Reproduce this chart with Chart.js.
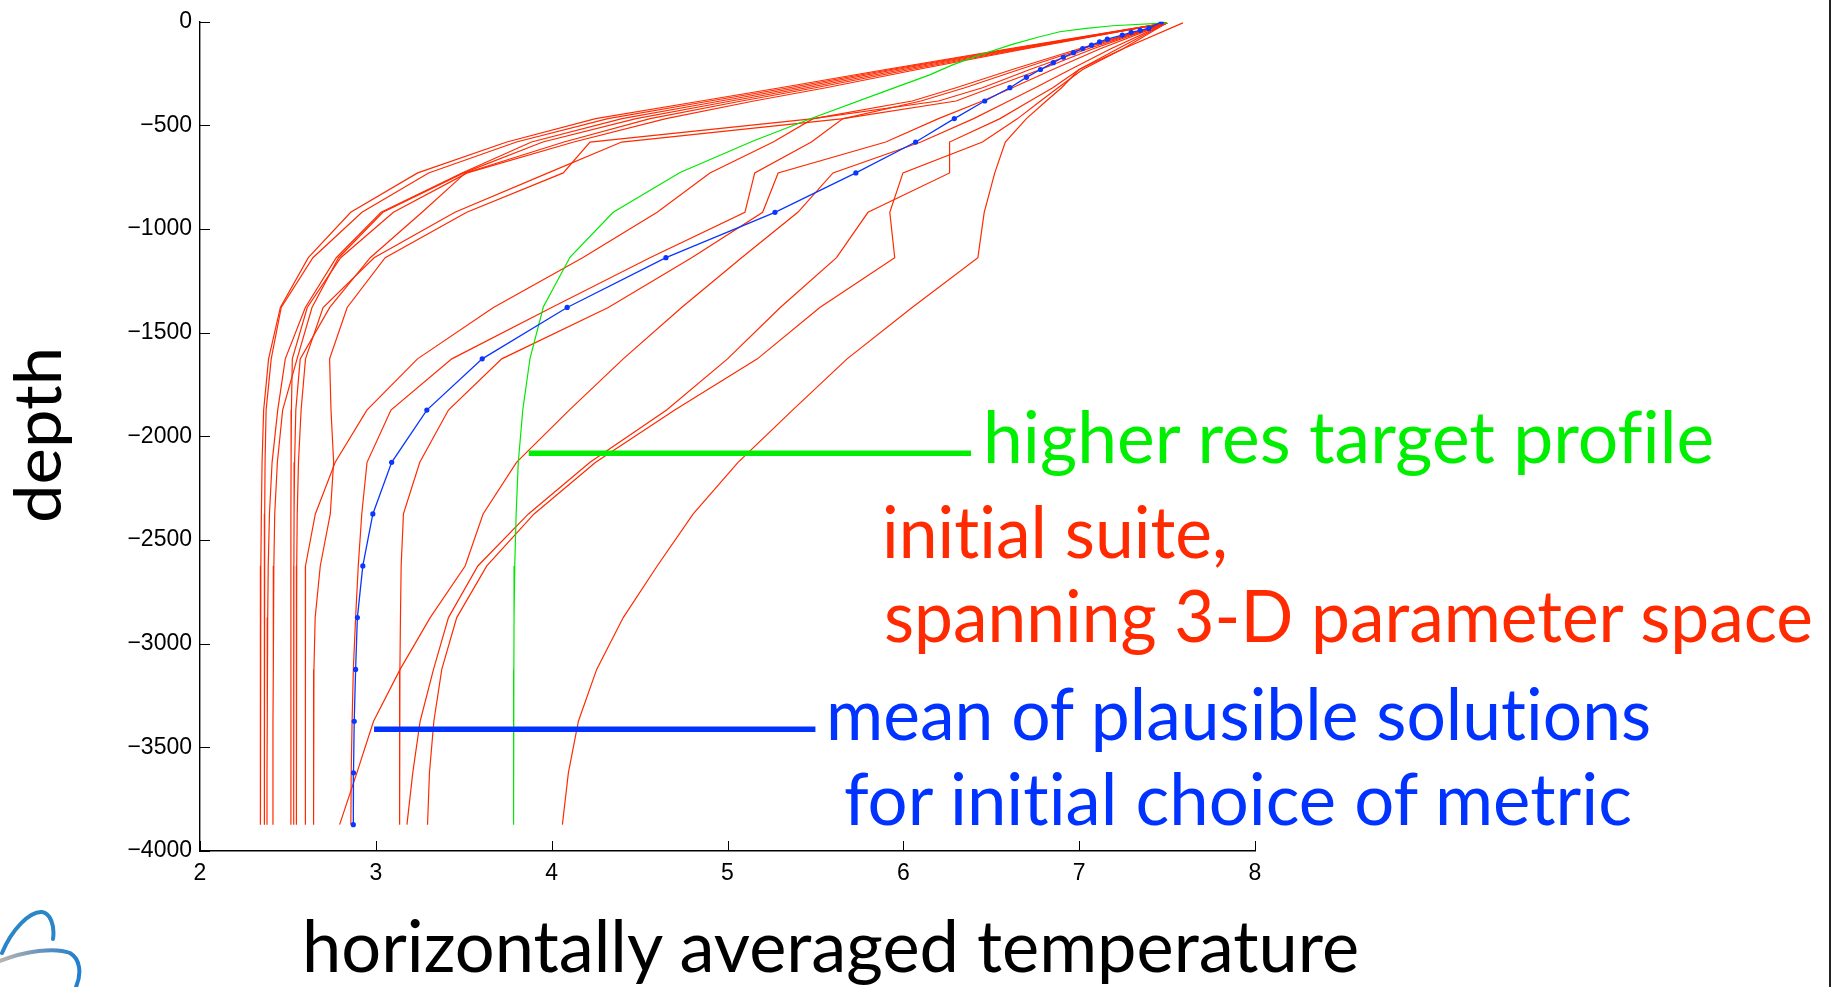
<!DOCTYPE html>
<html>
<head>
<meta charset="utf-8">
<script src="https://cdn.jsdelivr.net/npm/chart.js@4/dist/chart.umd.min.js"></script>
<style>
html,body{margin:0;padding:0;background:#fff;width:1837px;height:987px;overflow:hidden;}
#wrap{position:absolute;left:0;top:0;width:1837px;height:987px;}
canvas{display:block;position:absolute;left:0;top:0;}
.t{position:absolute;white-space:nowrap;transform-origin:0 0;margin:0;padding:0;}
#edge{position:absolute;left:1829px;top:0;width:2px;height:987px;background:#222;}
</style>
</head>
<body>
<div id="wrap">
<canvas id="c" width="1837" height="987"></canvas>
<svg id="logo" width="120" height="90" style="position:absolute;left:0;top:897px" viewBox="0 0 120 90">
  <defs>
    <linearGradient id="sw" x1="0" y1="0" x2="1" y2="0">
      <stop offset="0" stop-color="#b9b4ae"/>
      <stop offset="0.6" stop-color="#5b8fc0"/>
      <stop offset="1" stop-color="#1f7fd0"/>
    </linearGradient>
  </defs>
  <path d="M2 56 C 12 32, 30 14, 42 15 C 50 16, 55 28, 53 42" fill="none" stroke="#2b86c8" stroke-width="4" stroke-linecap="round"/>
  <path d="M0 64 C 25 54, 55 50, 70 56 C 80 62, 82 76, 76 90" fill="none" stroke="url(#sw)" stroke-width="4" stroke-linecap="round"/>
</svg>
<div id="edge"></div>
</div>
<script>
// ---------------- data ----------------
// depth levels of the initial-suite model profiles (m)
const suiteDepth = [-5, -130, -230, -318, -382, -467, -580, -729, -919, -1138, -1378, -1626, -1873, -2125, -2374, -2625, -2874, -3124, -3374, -3623, -3873];

// initial suite temperature profiles (one array per run)
const suiteA1 = [7.50, 6.60, 5.90, 5.30, 4.85, 4.25, 3.745, 3.238, 2.857, 2.616, 2.457, 2.390, 2.362, 2.353, 2.349, 2.346, 2.345, 2.344, 2.343, 2.343, 2.343];
const suiteA2 = [7.50, 6.62, 5.93, 5.35, 4.90, 4.32, 3.800, 3.300, 2.921, 2.642, 2.462, 2.405, 2.376, 2.370, 2.368, 2.367, 2.366, 2.366, 2.366, 2.366, 2.366];
const suiteA3 = [7.50, 6.64, 5.96, 5.40, 4.96, 4.40, 3.885, 3.490, 3.030, 2.775, 2.599, 2.485, 2.442, 2.410, 2.395, 2.388, 2.385, 2.383, 2.382, 2.381, 2.381];
const suiteA4 = [7.50, 6.66, 6.00, 5.45, 5.02, 4.48, 3.950, 3.500, 3.040, 2.788, 2.637, 2.552, 2.470, 2.440, 2.425, 2.420, 2.418, 2.416, 2.415, 2.415, 2.415];
const suiteA5 = [7.50, 6.68, 6.04, 5.50, 5.08, 4.56, 4.070, 3.510, 3.263, 2.968, 2.738, 2.570, 2.545, 2.538, 2.535, 2.534, 2.533, 2.533, 2.533, 2.533, 2.533];
const suiteA6 = [7.50, 6.70, 6.08, 5.56, 5.15, 4.65, 4.126, 3.520, 3.100, 2.800, 2.610, 2.525, 2.520, 2.518, 2.517, 2.517, 2.517, 2.517, 2.517, 2.517, 2.517];
const suiteB1 = [7.50, 7.00, 6.62, 6.30, 6.05, 5.49, 4.218, 4.066, 3.517, 3.053, 2.837, 2.737, 2.745, 2.760, 2.741, 2.684, 2.655, 2.648, 2.646, 2.646, 2.646];
const suiteB2 = [7.50, 7.02, 6.66, 6.35, 6.10, 5.66, 4.398, 3.980, 3.450, 2.990, 2.700, 2.600, 2.575, 2.560, 2.553, 2.550, 2.549, 2.548, 2.548, 2.548, 2.548];
const suiteM1 = [7.50, 7.05, 6.72, 6.45, 6.20, 5.487, 5.260, 4.900, 4.600, 4.176, 3.669, 3.237, 2.949, 2.769, 2.656, 2.600, 2.600, 2.600, 2.599, 2.599, 2.599];
const suiteM2 = [7.50, 7.08, 6.78, 6.50, 6.30, 5.657, 5.477, 5.155, 5.099, 4.559, 4.000, 3.432, 3.086, 2.950, 2.920, 2.900, 2.885, 2.872, 2.865, 2.860, 2.858];
const suiteM3 = [7.50, 7.12, 6.85, 6.62, 6.45, 6.20, 5.900, 5.288, 5.200, 4.796, 4.322, 3.716, 3.413, 3.250, 3.157, 3.144, 3.140, 3.137, 3.136, 3.135, 3.135];
const suiteD1 = [7.50, 7.25, 7.02, 6.88, 6.78, 6.65, 6.450, 5.998, 5.923, 5.951, 5.525, 5.170, 4.700, 4.250, 3.900, 3.631, 3.460, 3.375, 3.330, 3.305, 3.294];
const suiteD2 = [7.50, 7.22, 7.00, 6.85, 6.72, 6.55, 6.263, 6.263, 5.799, 5.620, 5.300, 5.000, 4.654, 4.218, 3.868, 3.580, 3.413, 3.328, 3.252, 3.210, 3.177];
const suiteD3 = [7.50, 7.18, 6.95, 6.75, 6.60, 6.40, 6.100, 5.600, 5.400, 5.080, 4.739, 4.407, 4.100, 3.800, 3.610, 3.508, 3.309, 3.138, 2.987, 2.892, 2.794];
const suiteR  = [7.59, 7.25, 7.00, 6.90, 6.813, 6.70, 6.580, 6.520, 6.460, 6.424, 6.050, 5.680, 5.370, 5.060, 4.805, 4.600, 4.407, 4.256, 4.152, 4.095, 4.061];

// higher-res target profile
const targetDepth = [-5, -19, -32, -48, -72, -109, -160, -208, -256, -344, -463, -575, -727, -919, -1135, -1375, -1623, -1870, -2126, -2374, -2625, -2878, -3124, -3374, -3623, -3873];
const targetTemp  = [7.50, 7.19, 7.04, 6.89, 6.775, 6.62, 6.434, 6.28, 6.15, 5.866, 5.487, 5.146, 4.73, 4.35, 4.105, 3.953, 3.877, 3.836, 3.81, 3.798, 3.79, 3.786, 3.785, 3.784, 3.783, 3.783];

// mean of plausible solutions
const meanDepth = [0, -32, -41, -51, -64, -84, -97, -113, -129, -149, -171, -197, -230, -268, -318, -382, -467, -580, -729, -919, -1138, -1378, -1626, -1873, -2125, -2374, -2625, -2874, -3124, -3374, -3623, -3873];
const meanTemp  = [7.468, 7.396, 7.347, 7.296, 7.245, 7.16, 7.116, 7.07, 7.02, 6.968, 6.91, 6.853, 6.78, 6.70, 6.606, 6.463, 6.29, 6.07, 5.73, 5.27, 4.65, 4.088, 3.605, 3.29, 3.09, 2.983, 2.926, 2.895, 2.885, 2.877, 2.873, 2.872];

// annotation leader lines (temperature, depth)
const greenLeaderT = [3.87, 6.385];
const greenLeaderD = [-2081, -2081];
const blueLeaderT  = [2.99, 5.50];
const blueLeaderD  = [-3413, -3413];

// ticks
const xTickValues = [2, 3, 4, 5, 6, 7, 8];
const xTickLabels = ['2', '3', '4', '5', '6', '7', '8'];
const yTickValues = [-4000, -3500, -3000, -2500, -2000, -1500, -1000, -500, 0];
const yTickLabels = ['\u22124000', '\u22123500', '\u22123000', '\u22122500', '\u22122000', '\u22121500', '\u22121000', '\u2212500', '0'];

// texts
const xTitle = 'horizontally averaged temperature';
const yTitle = 'depth';
const labelTarget = 'higher res target profile';
const labelSuite1 = 'initial suite,';
const labelSuite2 = 'spanning 3-D parameter space';
const labelMean1 = 'mean of plausible solutions';
const labelMean2 = 'for initial choice of metric';

// ---------------- chart ----------------
const RED = '#ff2a00', GREEN = '#00e800', BLUE = '#0a36ff';
const suites = [suiteA1, suiteA2, suiteA3, suiteA4, suiteA5, suiteA6, suiteB1, suiteB2, suiteM1, suiteM2, suiteM3, suiteD1, suiteD2, suiteD3, suiteR];
const pts = (xs, ys) => xs.map((v, i) => ({x: v, y: ys[i]}));

const datasets = [];
datasets.push({data: pts(greenLeaderT, greenLeaderD), borderColor: '#00ee00', borderWidth: 5.5, pointRadius: 0, order: 0, borderCapStyle: 'butt'});
datasets.push({data: pts(blueLeaderT, blueLeaderD), borderColor: '#0033ff', borderWidth: 5.5, pointRadius: 0, order: 0, borderCapStyle: 'butt'});
datasets.push({data: pts(meanTemp, meanDepth), borderColor: BLUE, borderWidth: 1.3, pointRadius: 2.6, pointBackgroundColor: BLUE, pointBorderWidth: 0, order: 1});
datasets.push({data: pts(targetTemp, targetDepth), borderColor: GREEN, borderWidth: 1.2, pointRadius: 0, order: 2});
suites.forEach(s => datasets.push({data: pts(s, suiteDepth), borderColor: RED, borderWidth: 1.2, pointRadius: 0, order: 3}));

const tickFont = {family: 'Liberation Sans', size: 23};

const inwardTicks = {
  id: 'inwardTicks',
  afterDraw(chart) {
    const {ctx, chartArea: a, scales: {x, y}} = chart;
    ctx.save();
    ctx.strokeStyle = '#000';
    ctx.lineWidth = 1;
    x.ticks.forEach(t => {
      const px = Math.round(x.getPixelForValue(t.value)) + 0.5;
      ctx.beginPath(); ctx.moveTo(px, a.bottom); ctx.lineTo(px, a.bottom - 10); ctx.stroke();
    });
    y.ticks.forEach(t => {
      const py = Math.round(y.getPixelForValue(t.value)) + 0.5;
      ctx.beginPath(); ctx.moveTo(a.left, py); ctx.lineTo(a.left + 10, py); ctx.stroke();
    });
    ctx.restore();
  }
};

new Chart(document.getElementById('c'), {
  type: 'scatter',
  data: {datasets},
  options: {
    responsive: false,
    animation: false,
    devicePixelRatio: 1,
    showLine: true,
    elements: {line: {tension: 0, fill: false}},
    layout: {padding: {left: 0, top: 17, right: 582, bottom: 96}},
    plugins: {legend: {display: false}, tooltip: {enabled: false}},
    scales: {
      x: {
        type: 'linear', min: 2, max: 8,
        afterBuildTicks: s => { s.ticks = xTickValues.map(v => ({value: v})); },
        ticks: {autoSkip: false, maxRotation: 0, padding: 9, color: '#000', font: tickFont,
                callback: (v, i) => xTickLabels[i]},
        grid: {display: false, drawTicks: false},
        border: {display: true, color: '#000', width: 1.4},
        afterFit: s => { s.height = 40; }
      },
      y: {
        type: 'linear', min: -4000, max: 0,
        afterBuildTicks: s => { s.ticks = yTickValues.map(v => ({value: v})); },
        ticks: {autoSkip: false, padding: 8, color: '#000', font: tickFont,
                callback: (v, i) => yTickLabels[i]},
        grid: {display: false, drawTicks: false},
        border: {display: true, color: '#000', width: 1.4},
        afterFit: s => { s.width = 200; }
      }
    }
  },
  plugins: [inwardTicks]
});

// ---------------- text annotations (real DOM text) ----------------
const mctx = document.createElement('canvas').getContext('2d');
function styleDiv(d, txt, font, size, color) {
  d.className = 't';
  d.textContent = txt;
  d.style.font = font;
  d.style.lineHeight = size + 'px';
  d.style.fontVariantLigatures = 'none';
  d.style.fontFeatureSettings = '"liga" 0, "clig" 0';
  d.style.color = color;
}
function placeText(txt, color, size, inkLeft, inkRight, baseline) {
  const font = size + 'px Lato';
  mctx.font = font;
  const m = mctx.measureText(txt);
  const inkW = m.actualBoundingBoxLeft + m.actualBoundingBoxRight;
  const sx = (inkRight - inkLeft) / inkW;
  const asc = m.fontBoundingBoxAscent, desc = m.fontBoundingBoxDescent;
  const off = (size - (asc + desc)) / 2 + asc;
  const d = document.createElement('div');
  styleDiv(d, txt, font, size, color);
  d.style.left = (inkLeft + m.actualBoundingBoxLeft * sx) + 'px';
  d.style.top = (baseline - off) + 'px';
  d.style.transform = 'scaleX(' + sx + ')';
  document.getElementById('wrap').appendChild(d);
}
function placeVertical(txt, color, size, baselineX, yTop, yBottom) {
  const font = size + 'px Lato';
  mctx.font = font;
  const m = mctx.measureText(txt);
  const inkW = m.actualBoundingBoxLeft + m.actualBoundingBoxRight;
  const sx = (yBottom - yTop) / inkW;
  const asc = m.fontBoundingBoxAscent, desc = m.fontBoundingBoxDescent;
  const off = (size - (asc + desc)) / 2 + asc;
  const d = document.createElement('div');
  styleDiv(d, txt, font, size, color);
  d.style.left = (baselineX - off) + 'px';
  d.style.top = (yBottom - m.actualBoundingBoxLeft * sx) + 'px';
  d.style.transform = 'rotate(-90deg) scaleX(' + sx + ')';
  document.getElementById('wrap').appendChild(d);
}
placeText(labelTarget, '#00ee00', 71, 988, 1712, 463);
placeText(labelSuite1, '#ff2a00', 71, 886, 1226, 558);
placeText(labelSuite2, '#ff2a00', 71, 886, 1812, 642);
placeText(labelMean1, '#0033ff', 71, 831, 1651, 740);
placeText(labelMean2, '#0033ff', 71, 845, 1635, 825);
placeText(xTitle, '#000000', 72, 307, 1359, 972);
placeVertical(yTitle, '#000000', 66, 61, 351, 521);
</script>
</body>
</html>
